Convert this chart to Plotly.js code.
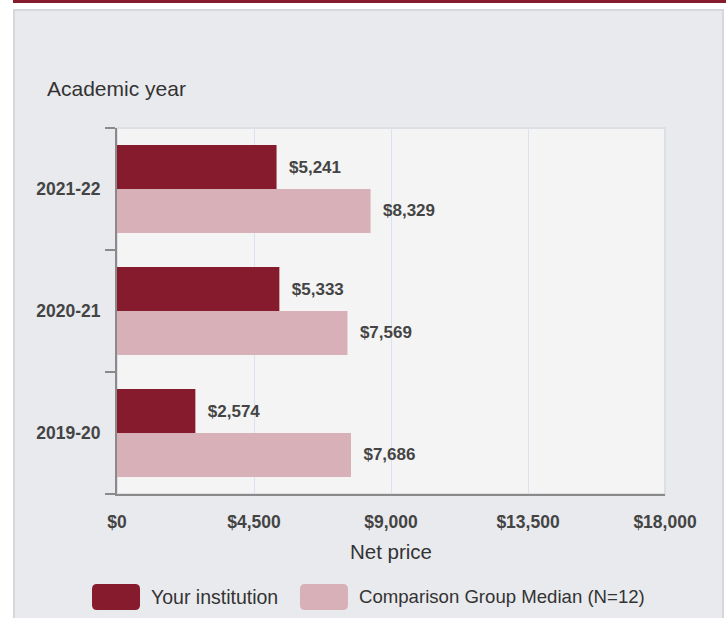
<!DOCTYPE html>
<html>
<head>
<meta charset="utf-8">
<script src="https://cdn.plot.ly/plotly-3.0.1.min.js"></script>
<style>
  html, body { margin:0; padding:0; background:#ffffff; width:726px; height:618px; overflow:hidden; }
  #topline { position:absolute; left:13px; top:0px; width:713px; height:3px; background:#861b2d; }
  #panel { position:absolute; left:13px; top:9px; width:707px; height:620px; background:#e9eaee; border:2px solid #d6d7da; }
  #chart { position:absolute; left:0; top:0; width:726px; height:618px; }
</style>
</head>
<body>
<div id="topline"></div>
<div id="panel"></div>
<div id="chart"></div>
<script>
// ---- data ----
var years = ['2019-20', '2020-21', '2021-22'];
var seriesNames = ['Your institution', 'Comparison Group Median (N=12)'];
var yourInstitution = [2574, 5333, 5241];
var comparisonMedian = [7686, 7569, 8329];
var xTickVals = [0, 4500, 9000, 13500, 18000];
var xTickText = ['$0', '$4,500', '$9,000', '$13,500', '$18,000'];
var xTitle = 'Net price';
var yTitle = 'Academic year';

var darkColor = '#861b2d';
var lightColor = '#d7b1b7';
var FAM = 'Liberation Sans, Arial, sans-serif';
var tickFont = { family: FAM, size: 17.5, color: '#444444', weight: 'bold' };
var barLabelFont = { family: FAM, size: 17, color: '#444444', weight: 'bold' };

var traces = [
  {
    type: 'bar', orientation: 'h', name: seriesNames[1],
    y: years, x: comparisonMedian,
    marker: { color: lightColor, line: { width: 0 } },
    texttemplate: '\u00a0\u00a0$%{x:,}', textposition: 'outside',
    textfont: barLabelFont, constraintext: 'none', cliponaxis: false,
    hoverinfo: 'x+name', showlegend: false
  },
  {
    type: 'bar', orientation: 'h', name: seriesNames[0],
    y: years, x: yourInstitution,
    marker: { color: darkColor, line: { width: 0 } },
    texttemplate: '\u00a0\u00a0$%{x:,}', textposition: 'outside',
    textfont: barLabelFont, constraintext: 'none', cliponaxis: false,
    hoverinfo: 'x+name', showlegend: false
  }
];

function legendSwatch(xp, color) {
  return {
    type: 'path', xref: 'paper', yref: 'paper',
    xsizemode: 'pixel', ysizemode: 'pixel',
    xanchor: xp, yanchor: -0.2814,
    path: 'M5,-13 H43 Q48,-13 48,-8 V8 Q48,13 43,13 H5 Q0,13 0,8 V-8 Q0,-13 5,-13 Z',
    fillcolor: color, line: { width: 0 }
  };
}

var layout = {
  width: 726, height: 618,
  margin: { l: 117, r: 61, t: 128, b: 124, pad: 0 },
  paper_bgcolor: 'rgba(0,0,0,0)',
  plot_bgcolor: '#f4f4f4',
  barmode: 'group', bargap: 0.28, bargroupgap: 0,
  showlegend: false,
  font: { family: FAM, color: '#444444' },
  xaxis: {
    range: [0, 18000], tickvals: xTickVals, ticktext: xTickText,
    showgrid: true, gridcolor: '#dbe2ee', gridwidth: 1,
    zeroline: false, showline: true, linecolor: '#8a8a8a', linewidth: 2,
    ticks: '', ticklabelstandoff: 11,
    tickfont: tickFont,
    title: { text: xTitle, standoff: 14, font: { family: FAM, size: 20.5, color: '#333333' } },
    fixedrange: true
  },
  yaxis: {
    type: 'category', categoryorder: 'array', categoryarray: years,
    showgrid: false, zeroline: false,
    showline: true, linecolor: '#8a8a8a', linewidth: 2,
    ticks: 'outside', tickson: 'boundaries', ticklen: 10, tickwidth: 2, tickcolor: '#8a8a8a',
    ticklabelstandoff: 11,
    tickfont: tickFont,
    fixedrange: true
  },
  shapes: [
    { type: 'rect', xref: 'paper', yref: 'paper', x0: 0, x1: 1, y0: 0, y1: 1,
      line: { color: '#dcdfe4', width: 2 }, fillcolor: 'rgba(0,0,0,0)', layer: 'below' },
    legendSwatch(-0.0456, darkColor),
    legendSwatch(0.3339, lightColor)
  ],
  annotations: [
    { text: yTitle, xref: 'paper', yref: 'paper', x: -0.1314, y: 1.109,
      xanchor: 'left', yanchor: 'middle', showarrow: false,
      font: { family: FAM, size: 21, color: '#333333' } },
    { text: seriesNames[0], xref: 'paper', yref: 'paper', x: 0.0585, y: -0.2814,
      xanchor: 'left', yanchor: 'middle', showarrow: false,
      font: { family: FAM, size: 19.5, color: '#333333' } },
    { text: seriesNames[1], xref: 'paper', yref: 'paper', x: 0.438, y: -0.2814,
      xanchor: 'left', yanchor: 'middle', showarrow: false,
      font: { family: FAM, size: 18.6, color: '#333333' } }
  ]
};

Plotly.newPlot('chart', traces, layout, { displayModeBar: false, staticPlot: true });
</script>
</body>
</html>
